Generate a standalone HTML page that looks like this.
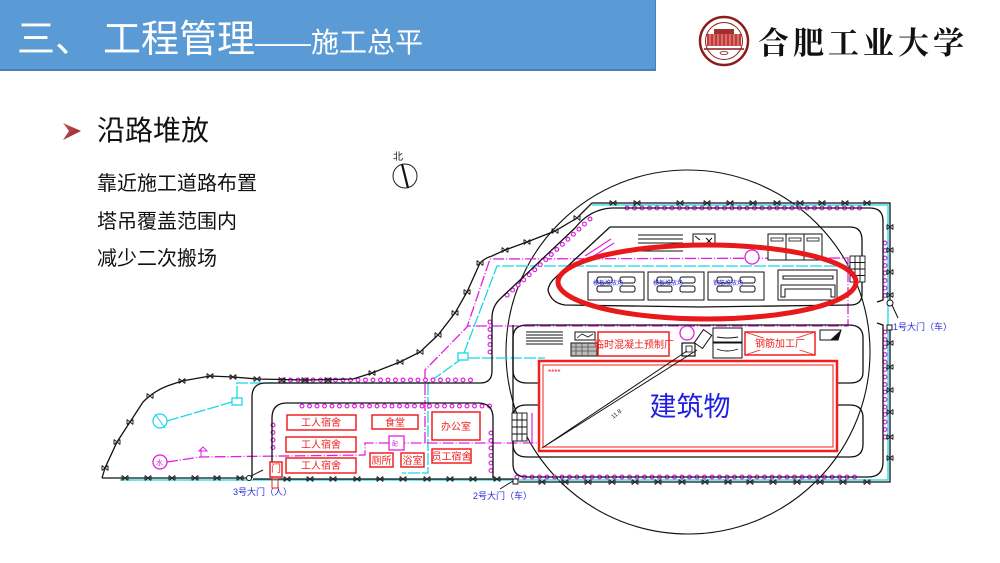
<!DOCTYPE html>
<html><head><meta charset="utf-8">
<style>
html,body{margin:0;padding:0;background:#fff;}
body{width:1000px;height:563px;position:relative;overflow:hidden;font-family:"Liberation Sans","Noto Sans CJK SC",sans-serif;}
.bar{position:absolute;left:0;top:0;width:655px;height:69px;background:#5b9bd5;border-bottom:2px solid #4a80b8;border-right:1px solid #4a80b8;}
.title{position:absolute;left:17px;top:15px;color:#fff;white-space:nowrap;font-family:"Liberation Sans","Noto Sans CJK SC",sans-serif;line-height:50px;}
.t1{font-size:38px;}
.t2{font-size:28px;}
.logo{position:absolute;left:758px;top:19px;font-family:"Noto Serif CJK SC","Noto Sans CJK SC",serif;font-weight:700;font-size:31px;letter-spacing:4px;line-height:44px;color:#111;white-space:nowrap;}
.h{position:absolute;left:97px;top:113px;font-size:28px;line-height:36px;color:#111;font-family:"Liberation Sans","Noto Sans CJK SC",sans-serif;white-space:nowrap;}
.s{position:absolute;left:97px;font-size:20px;line-height:26px;color:#111;font-family:"Liberation Sans","Noto Sans CJK SC",sans-serif;white-space:nowrap;}
svg{position:absolute;left:0;top:0;}
svg text{font-family:"Liberation Sans","Noto Sans CJK SC",sans-serif;}
.bk{fill:none;stroke:#111;stroke-width:1.3;}
.mg{fill:none;stroke:#e020e0;stroke-width:1.3;stroke-dasharray:11 2 1 2;}
.cy{fill:none;stroke:#18d8e8;stroke-width:1.3;stroke-dasharray:12 2;}
.fl{fill:none;stroke:#e020e0;stroke-width:5;stroke-dasharray:0 7.5;stroke-linecap:round;}
.fw{fill:none;stroke:#fff;stroke-width:2.6;stroke-dasharray:0 7.5;stroke-linecap:round;}
.rd{fill:#fff;stroke:#f02020;stroke-width:1.5;}
.rt{fill:#f02020;font-size:10px;text-anchor:middle;}
.bt{fill:#2a2ae0;font-size:9px;}
</style></head>
<body>
<div class="bar"></div>
<div class="title"><span class="t1">三、</span><span class="t1" style="margin-left:10px">工程管理</span><span class="t2">——施工总平</span></div>

<svg width="1000" height="563" viewBox="0 0 1000 563">
<defs>
<path id="xm" d="M-3,-2.5L3,2.5M-3,2.5L3,-2.5M-3,-2.5V2.5M3,-2.5V2.5" stroke="#222" stroke-width="1" fill="none"/>
<linearGradient id="ag" x1="0" y1="0" x2="1" y2="1"><stop offset="0" stop-color="#c85a5a"/><stop offset="1" stop-color="#8a1e24"/></linearGradient>
</defs>

<circle cx="724" cy="41" r="24" fill="#fff" stroke="#8c1c1c" stroke-width="2.5"/>
<circle cx="724" cy="41" r="18.5" fill="#fff" stroke="#8c1c1c" stroke-width="1"/>
<rect x="707" y="34" width="34" height="12" fill="#c23a3a"/>
<path d="M710,34V46M714,34V46M718,34V46M722,34V46M726,34V46M730,34V46M734,34V46M738,34V46" stroke="#f0c0c0" stroke-width="0.8"/>
<rect x="714" y="29" width="20" height="5" fill="#a03030"/>
<path d="M704,49H744" stroke="#8c1c1c" stroke-width="1.5"/>
<ellipse cx="724" cy="53" rx="4" ry="1.5" fill="none" stroke="#8c1c1c" stroke-width="0.7"/>

<path d="M63,123 L81,131 L63,140 L69,131 Z" fill="url(#ag)"/>

<text x="393" y="160" font-size="10" fill="#222">北</text>
<circle cx="405" cy="176" r="12" fill="none" stroke="#222" stroke-width="1"/>
<path d="M402,164 L408,188" stroke="#111" stroke-width="2.2"/>

<circle cx="688" cy="352" r="182" fill="none" stroke="#111" stroke-width="1.1"/>

<path class="cy" style="stroke-dasharray:none" d="M592,205 L888,205 L888,480 L120,480"/>
<circle cx="160" cy="421" r="7" fill="none" stroke="#18d8e8" stroke-width="1.3"/>
<path d="M155,414 L165,428" stroke="#18d8e8" stroke-width="1"/>
<path class="cy" d="M167,421 L232,402"/>
<rect x="232" y="398" width="10" height="7" fill="none" stroke="#18d8e8" stroke-width="1.3"/>
<path class="cy" d="M237,398 L237,383 L428,383 L460,360"/>
<rect x="458" y="353" width="10" height="7" fill="none" stroke="#18d8e8" stroke-width="1.3"/>
<path class="cy" d="M468,358 L545,358"/>
<path class="cy" d="M464,353 L497,266 L852,266"/>
<path class="cy" d="M428,383 L428,473 L402,473"/>

<circle cx="160" cy="462" r="7" fill="none" stroke="#e020e0" stroke-width="1.3"/>
<text x="156" y="465" font-size="7" fill="#e020e0">水</text>
<path class="mg" d="M167,462 L200,457 L365,455 L365,443 L540,443"/>
<path d="M201,457 V449 M199,451 L203,447 L207,451 Z" stroke="#e020e0" stroke-width="1" fill="none"/>
<path class="mg" d="M425,443 L425,370 L467,327 L490,259 L848,258 L848,326 L467,326"/>
<circle cx="752" cy="257" r="7" fill="#fff" stroke="#e020e0" stroke-width="1.3"/>
<circle cx="687" cy="333" r="7" fill="#fff" stroke="#e020e0" stroke-width="1.3"/>
<rect x="389" y="436" width="15" height="14" fill="#fff" stroke="#e020e0" stroke-width="1.3"/>
<text x="392" y="446" font-size="6" fill="#e020e0">配</text>
<path d="M585,256 L611,239 M589,259 L614,243" stroke="#e020e0" stroke-width="1.2" fill="none"/>
<path d="M532,413 L532,443" stroke="#e020e0" stroke-width="1.2"/>

<path class="fl" d="M627,208 L862,208"/><path class="fw" d="M627,208 L862,208"/>
<path class="fl" d="M590,219 L505,297"/><path class="fw" d="M590,219 L505,297"/>
<path class="fl" d="M490,322 L490,353"/><path class="fw" d="M490,322 L490,353"/>
<path class="fl" d="M283,380 L475,380"/><path class="fw" d="M283,380 L475,380"/>
<path class="fl" d="M302,406 L490,406"/><path class="fw" d="M302,406 L490,406"/>
<path class="fl" d="M273,425 L273,448"/><path class="fw" d="M273,425 L273,448"/>
<path class="fl" d="M491,433 L491,477"/><path class="fw" d="M491,433 L491,477"/>
<path class="fl" d="M885,243 L885,297"/><path class="fw" d="M885,243 L885,297"/>
<path class="fl" d="M885,332 L885,440"/><path class="fw" d="M885,332 L885,440"/>
<path class="fl" d="M517,477 L862,477"/><path class="fw" d="M517,477 L862,477"/>

<path class="bk" d="M102,478 L105,468 L117,442 L130,422 L143,402 Q155,390 170,385 L182,381 L210,376 L233,377 L257,379 L305,380 L353,379 L372,373 L400,362 L420,352 L438,335 L455,313 L467,292 L480,263 Q485,258 492,256 L505,250 L527,242 L555,231 L577,218 L592,203 L890,203 L890,300 M890,330 L890,482 L519,482 M513,479 L253,479 M246,478 L102,478"/>
<g>
<use href="#xm" x="613" y="203"/><use href="#xm" x="637" y="203"/><use href="#xm" x="680" y="203"/><use href="#xm" x="707" y="203"/><use href="#xm" x="730" y="203"/><use href="#xm" x="753" y="203"/><use href="#xm" x="777" y="203"/><use href="#xm" x="800" y="203"/><use href="#xm" x="822" y="203"/><use href="#xm" x="845" y="203"/><use href="#xm" x="867" y="203"/>
<use href="#xm" x="890" y="227"/><use href="#xm" x="890" y="250"/><use href="#xm" x="890" y="272"/><use href="#xm" x="890" y="295"/><use href="#xm" x="890" y="343"/><use href="#xm" x="890" y="367"/><use href="#xm" x="890" y="390"/><use href="#xm" x="890" y="412"/><use href="#xm" x="890" y="437"/><use href="#xm" x="890" y="458"/>
<use href="#xm" x="542" y="482"/><use href="#xm" x="565" y="482"/><use href="#xm" x="588" y="482"/><use href="#xm" x="612" y="482"/><use href="#xm" x="635" y="482"/><use href="#xm" x="658" y="482"/><use href="#xm" x="682" y="482"/><use href="#xm" x="705" y="482"/><use href="#xm" x="728" y="482"/><use href="#xm" x="750" y="482"/><use href="#xm" x="773" y="482"/><use href="#xm" x="797" y="482"/><use href="#xm" x="820" y="482"/><use href="#xm" x="843" y="482"/><use href="#xm" x="867" y="482"/>
<use href="#xm" x="125" y="478"/><use href="#xm" x="148" y="478"/><use href="#xm" x="172" y="478"/><use href="#xm" x="195" y="478"/><use href="#xm" x="217" y="478"/><use href="#xm" x="240" y="478"/><use href="#xm" x="287" y="479"/><use href="#xm" x="310" y="479"/><use href="#xm" x="333" y="479"/><use href="#xm" x="357" y="479"/><use href="#xm" x="380" y="479"/><use href="#xm" x="403" y="479"/><use href="#xm" x="427" y="479"/><use href="#xm" x="450" y="479"/><use href="#xm" x="473" y="479"/><use href="#xm" x="497" y="479"/>
<use href="#xm" x="105" y="468"/><use href="#xm" x="117" y="442"/><use href="#xm" x="130" y="422"/><use href="#xm" x="150" y="396"/><use href="#xm" x="182" y="381"/><use href="#xm" x="210" y="376"/><use href="#xm" x="233" y="377"/><use href="#xm" x="257" y="379"/><use href="#xm" x="282" y="380"/><use href="#xm" x="305" y="380"/><use href="#xm" x="328" y="380"/><use href="#xm" x="372" y="373"/><use href="#xm" x="400" y="362"/><use href="#xm" x="420" y="352"/><use href="#xm" x="438" y="335"/><use href="#xm" x="455" y="313"/><use href="#xm" x="467" y="292"/><use href="#xm" x="480" y="263"/><use href="#xm" x="505" y="250"/><use href="#xm" x="527" y="242"/><use href="#xm" x="555" y="231"/><use href="#xm" x="577" y="218"/>
</g>
<circle cx="249" cy="478" r="2.5" fill="#fff" stroke="#111" stroke-width="1"/>
<path d="M251,476 L263,470" stroke="#111" stroke-width="1"/>
<rect x="513" y="479" width="5" height="5" fill="#fff" stroke="#111" stroke-width="1"/>
<path d="M513,481 L500,489" stroke="#111" stroke-width="1"/>
<circle cx="890" cy="303" r="3" fill="#fff" stroke="#111" stroke-width="1"/>
<path d="M892,305 L898,318" stroke="#111" stroke-width="1"/>
<rect x="887" y="325" width="5" height="5" fill="#fff" stroke="#111" stroke-width="1"/>
<text class="bt" x="233" y="495" font-size="8.5">3号大门（人）</text>
<text class="bt" x="473" y="499" font-size="8.5">2号大门（车）</text>
<text class="bt" x="893" y="330" font-size="8.5">1号大门（车）</text>

<path class="bk" d="M252,478 L252,397 Q252,383 266,383 L480,383 Q492,383 492,371 L492,318 Q492,306 501,298 L575,228 Q590,209 612,208 L870,208 Q883,208 883,221 L883,300 L877,302"/>
<path class="bk" d="M877,323 L883,325 L883,462 Q883,477 868,477 L527,477 Q513,477 513,464 L513,325"/>
<path class="bk" d="M272,478 L272,418 Q272,403 287,403 L478,403 Q493,403 493,418 L493,478"/>
<path class="bk" d="M610,227 L850,227 Q862,227 862,240 L862,294 Q862,305 850,305 L700,307 L565,305 Q551,303 548,290 Q549,283 556,277 L610,227"/>
<path class="bk" d="M539,383 L527,383 Q513,383 513,370 L513,338 Q513,325 527,325 L849,325 Q863,325 863,338 L863,372 Q863,383 850,383 L837,383"/>
<path class="bk" d="M539,405 L526,405 Q513,405 513,418 L513,444 Q513,457 527,457 L850,457 Q863,457 863,444 L863,418 Q863,405 850,405 L837,405"/>

<path d="M638,235H683M638,239H683M638,243H683M638,247H683M638,251H683" stroke="#111" stroke-width="1"/>
<rect x="693" y="234" width="22" height="11" fill="#fff" stroke="#111" stroke-width="1"/>
<path d="M695,236 L700,240 M706,244 L712,238 M706,238 L712,244" stroke="#111" stroke-width="1"/>
<rect x="768" y="234" width="54" height="26" fill="#fff" stroke="#111" stroke-width="1"/>
<path d="M786,234V260M804,234V260" stroke="#111" stroke-width="1"/>
<rect x="771" y="238" width="12" height="3" fill="none" stroke="#111" stroke-width="0.8"/>
<rect x="789" y="238" width="12" height="3" fill="none" stroke="#111" stroke-width="0.8"/>
<rect x="807" y="238" width="12" height="3" fill="none" stroke="#111" stroke-width="0.8"/>

<g stroke="#111" stroke-width="1" fill="#fff">
<rect x="588" y="272" width="56" height="28"/>
<rect x="648" y="272" width="56" height="28"/>
<rect x="708" y="272" width="56" height="28"/>
<rect x="597" y="277" width="15" height="6" rx="2"/><rect x="597" y="286" width="15" height="6" rx="2"/>
<rect x="620" y="277" width="15" height="6" rx="2"/><rect x="620" y="286" width="15" height="6" rx="2"/>
<rect x="657" y="277" width="15" height="6" rx="2"/><rect x="657" y="286" width="15" height="6" rx="2"/>
<rect x="680" y="277" width="15" height="6" rx="2"/><rect x="680" y="286" width="15" height="6" rx="2"/>
<rect x="717" y="277" width="15" height="6" rx="2"/><rect x="717" y="286" width="15" height="6" rx="2"/>
<rect x="740" y="277" width="15" height="6" rx="2"/><rect x="740" y="286" width="15" height="6" rx="2"/>
<rect x="778" y="270" width="59" height="30"/>
<rect x="783" y="276" width="50" height="3"/>
<path d="M781,297 V285 H835 V297 H831 V289 H785 V297 Z"/>
</g>
<text x="593" y="285" font-size="6" fill="#2a2ae0">模板堆放场</text>
<text x="653" y="285" font-size="6" fill="#2a2ae0">模板堆放场</text>
<text x="713" y="285" font-size="6" fill="#2a2ae0">钢筋堆放场</text>
<g stroke="#111" stroke-width="0.9" fill="#fff">
<rect x="850" y="256" width="15" height="26"/>
<path d="M855,256V282M860,256V282M850,262.5H865M850,269H865M850,275.5H865" fill="none"/>
<rect x="512" y="413" width="15" height="28"/>
<path d="M517,413V441M522,413V441M512,420H527M512,427H527M512,434H527" fill="none"/>
</g>

<ellipse cx="707" cy="282" rx="149" ry="37" fill="none" stroke="#e8191b" stroke-width="5"/>

<path d="M526,332H563M526,335H563M526,338H563M526,341H563M526,344H563" stroke="#111" stroke-width="1"/>
<rect x="575" y="332" width="20" height="8" fill="#fff" stroke="#111" stroke-width="1"/>
<path d="M577,338 L582,334 L588,337 L593,334" stroke="#111" stroke-width="0.8" fill="none"/>
<rect x="571" y="343" width="26" height="13" fill="#bbb" stroke="#111" stroke-width="1"/>
<path d="M571,347H597M571,351H597M576,343V356M582,343V356M588,343V356" stroke="#555" stroke-width="0.8"/>
<rect class="rd" x="598" y="332" width="71" height="24"/>
<text class="rt" x="634" y="348" font-size="8.3">临时混凝土预制厂</text>
<rect x="682" y="343" width="13" height="13" fill="#fff" stroke="#111" stroke-width="1.2"/>
<rect x="686" y="346" width="6" height="6" fill="none" stroke="#111" stroke-width="0.8"/>
<rect x="698" y="331" width="10" height="16" fill="#fff" stroke="#111" stroke-width="1" transform="rotate(35 703 339)"/>
<rect x="713" y="328" width="29" height="14" fill="#fff" stroke="#111" stroke-width="1"/>
<rect x="713" y="343" width="29" height="15" fill="#fff" stroke="#111" stroke-width="1"/>
<path d="M717,337 Q727,339 738,337 M717,349 Q727,353 738,349" stroke="#111" stroke-width="0.9" fill="none"/>
<rect class="rd" x="745" y="332" width="70" height="23"/>
<path d="M745,332 L815,355 M815,332 L745,355" stroke="#f02020" stroke-width="0.8"/>
<rect x="756" y="338" width="48" height="12" fill="#fff"/>
<text class="rt" x="780" y="347" font-size="9">钢筋加工厂</text>
<path d="M820,330 H841 L838,340 H820 Z" fill="#fff" stroke="#111" stroke-width="1"/>
<path d="M830,340 L841,330 L838,340 Z" fill="#111"/>

<rect x="539" y="361" width="298" height="90" fill="#fff" stroke="#f02020" stroke-width="2.5"/>
<rect x="543" y="365" width="290" height="82" fill="none" stroke="#f02020" stroke-width="1"/>
<text x="548" y="375" font-size="8" fill="#f02020">****</text>
<path d="M542,448 L687,351 M542,448 L697,350" stroke="#111" stroke-width="1"/>
<text x="610" y="418" font-size="6" fill="#111" transform="rotate(-40 613 414)">11.8</text>
<text x="690" y="416" font-size="27" fill="#2020e0" text-anchor="middle">建筑物</text>

<rect class="rd" x="287" y="415" width="69" height="15"/><text class="rt" x="321" y="426">工人宿舍</text>
<rect class="rd" x="286" y="437" width="70" height="15"/><text class="rt" x="321" y="448">工人宿舍</text>
<rect class="rd" x="286" y="458" width="70" height="15"/><text class="rt" x="321" y="469">工人宿舍</text>
<rect class="rd" x="372" y="415" width="46" height="14"/><text class="rt" x="395" y="426">食堂</text>
<rect class="rd" x="432" y="412" width="48" height="28"/><text class="rt" x="456" y="430">办公室</text>
<rect class="rd" x="370" y="453" width="23" height="14"/><text class="rt" x="381.5" y="464" font-size="9">厕所</text>
<rect class="rd" x="401" y="453" width="23" height="14"/><text class="rt" x="412.5" y="464" font-size="9">浴室</text>
<rect class="rd" x="432" y="449" width="39" height="14"/><text class="rt" x="451.5" y="460" font-size="9">员工宿舍</text>
<rect class="rd" x="270" y="462" width="12" height="15"/><text class="rt" x="276" y="472" font-size="7">门</text>
<rect x="272" y="479" width="6" height="9" fill="none" stroke="#f02020" stroke-width="1"/>
</svg>

<div class="logo">合肥工业大学</div>
<div class="h">沿路堆放</div>
<div class="s" style="top:171px">靠近施工道路布置</div>
<div class="s" style="top:209px">塔吊覆盖范围内</div>
<div class="s" style="top:246px">减少二次搬场</div>
</body></html>
